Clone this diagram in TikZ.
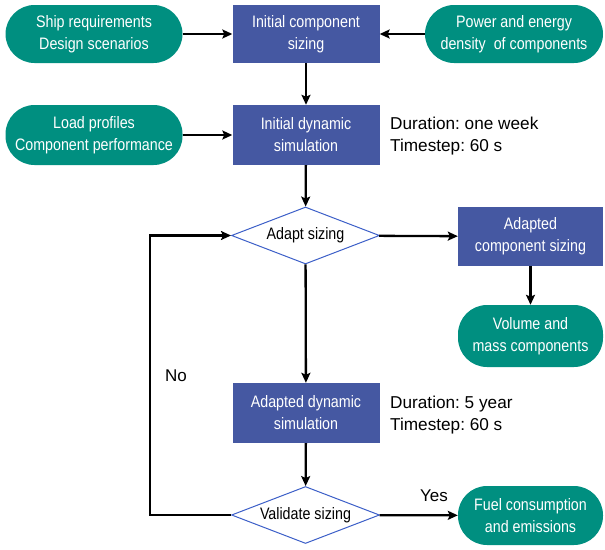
\documentclass[tikz,border=0pt]{standalone}
\usepackage{fontspec}
\setmainfont{Liberation Sans}
\newfontfamily\narrowfont[FakeStretch=0.86]{Liberation Sans}
\usetikzlibrary{shapes.geometric,arrows.meta}
\definecolor{pillcol}{RGB}{0,143,128}
\definecolor{boxcol}{RGB}{69,88,162}
\definecolor{diacol}{RGB}{60,95,200}
\frenchspacing
\begin{document}
\begin{tikzpicture}[x=1pt,y=-1pt,
  nfont/.style={font=\narrowfont\fontsize{16.6}{22}\selectfont},
  pill/.style={nfont, fill=pillcol, rounded corners=29pt, minimum width=177pt, minimum height=58pt, text=white, align=center, inner sep=0pt},
  box/.style={nfont, fill=boxcol, minimum width=147pt, minimum height=58pt, text=white, align=center, inner sep=0pt},
  decide/.style={nfont, diamond, draw=diacol, line width=1pt, fill=white, minimum width=148pt, minimum height=57pt, aspect=2.6, inner sep=0pt},
  note/.style={font=\fontsize{17.2}{22}\selectfont, align=left, anchor=west, inner sep=0pt},
  lbl/.style={font=\fontsize{17}{18}\selectfont, inner sep=0pt},
  arr/.style={line width=2.3pt, -{Stealth[length=10pt,width=9pt,inset=2pt]}}
]
\useasboundingbox (0,0) rectangle (605,549);
\node[pill] (ship) at (94,34) {Ship requirements\\Design scenarios};
\node[box] (ics) at (306,34) {Initial component\\sizing};
\node[pill, minimum width=178pt] (power) at (514,34) {Power and energy\\density\ \ of components};
\node[pill, minimum height=60pt] (load) at (94,135) {Load profiles\\Component performance};
\node[box, minimum height=60pt] (ids) at (306,135) {Initial dynamic\\simulation};
\node[note] (n1) at (390,136) {Duration: one week\\Timestep: 60 s};
\node[decide] (adapt) at (305.5,235.5) {Adapt sizing};
\node[box, minimum width=145pt, minimum height=59pt] (acs) at (530.5,236.5) {Adapted\\component sizing};
\node[pill, minimum width=145pt, minimum height=62pt] (vol) at (530.5,336) {Volume and\\mass components};
\node[lbl] (no) at (176,376) {No};
\node[box, minimum height=60pt] (ads) at (306,413) {Adapted dynamic\\simulation};
\node[note] (n2) at (390,415) {Duration: 5 year\\Timestep: 60 s};
\node[decide] (val) at (305.5,515) {Validate sizing};
\node[pill, minimum width=145pt, minimum height=59pt] (fuel) at (530.5,515.5) {Fuel consumption\\and emissions};
\node[lbl] (yes) at (434,496) {Yes};
\coordinate (loopc) at (150,515);
\draw[arr] (ship) -- (ics);
\draw[arr] (power) -- (ics);
\draw[arr] (ics) -- (ids);
\draw[arr] (load) -- (ids);
\draw[arr] (ids) -- (adapt);
\draw[arr] (adapt) -- (acs);
\draw[arr] (acs) -- (vol);
\draw[arr] (adapt) -- (ads);
\draw[arr] (ads) -- (val);
\draw[arr] (val) -- (fuel);
\draw[arr] (val.west) -- (loopc) |- (adapt.west);
\end{tikzpicture}
\end{document}
